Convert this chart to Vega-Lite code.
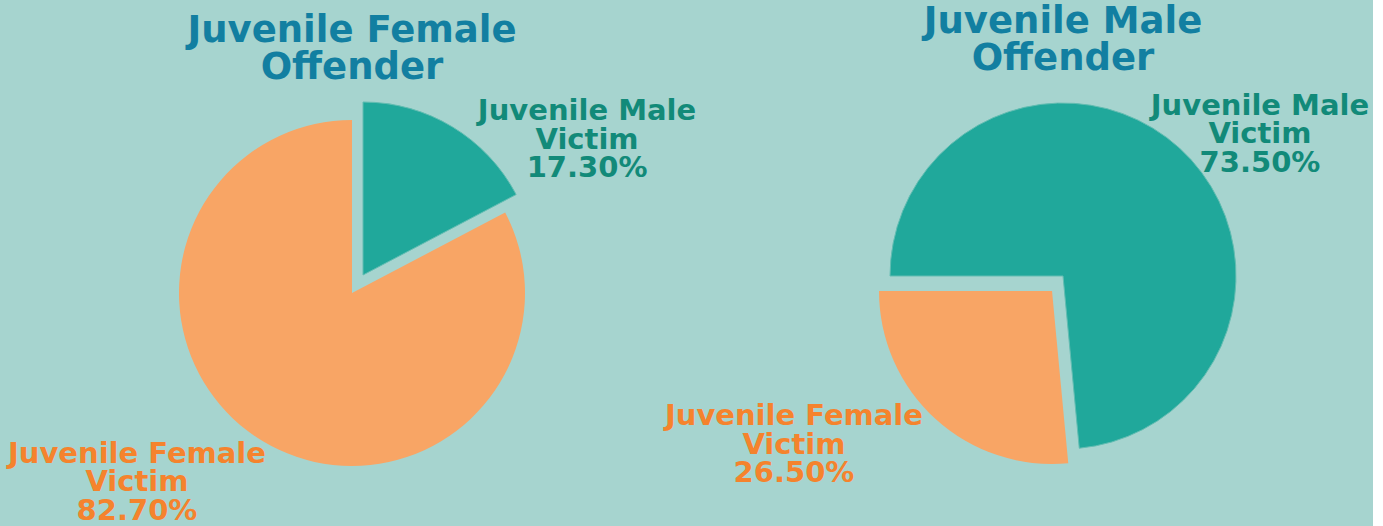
{
  "$schema": "https://vega.github.io/schema/vega-lite/v6.json",
  "background": "#a6d4cf",
  "padding": 0,
  "bounds": "flush",
  "spacing": 49,
  "config": {"view": {"stroke": null}},
  "data": {
    "values": [
      {"offender": "Juvenile Female Offender", "victim": "Juvenile Male Victim", "percent": 17.3},
      {"offender": "Juvenile Female Offender", "victim": "Juvenile Female Victim", "percent": 82.7},
      {"offender": "Juvenile Male Offender", "victim": "Juvenile Male Victim", "percent": 73.5},
      {"offender": "Juvenile Male Offender", "victim": "Juvenile Female Victim", "percent": 26.5}
    ]
  },
  "resolve": {"scale": {"theta": "independent", "color": "shared"}},
  "hconcat": [
    {
      "width": 704,
      "height": 526,
      "title": {"text": ["Juvenile Female", "Offender"], "font": "DejaVu Sans", "fontWeight": "bold", "fontSize": 37, "lineHeight": 37, "color": "#127fa1", "baseline": "bottom", "offset": -124, "anchor": "middle"},
      "transform": [
        {"filter": "datum.offender == 'Juvenile Female Offender'"},
        {"stack": "percent", "groupby": [], "sort": [{"field": "victim", "order": "descending"}], "as": ["v0", "v1"]},
        {"calculate": "replace(datum.victim, ' Victim', '\\nVictim') + '\\n' + format(datum.percent, '.2f') + '%'", "as": "label"}
      ],
      "layer": [
        {
          "transform": [{"filter": "datum.victim == 'Juvenile Female Victim'"}],
          "mark": {"type": "arc", "radius": 173, "yOffset": 30},
          "encoding": {
            "theta": {"field": "v0", "type": "quantitative", "scale": {"domain": [0, 100], "range": [0, 6.283185]}},
            "theta2": {"field": "v1"},
            "color": {"field": "victim", "type": "nominal", "scale": {"domain": ["Juvenile Male Victim", "Juvenile Female Victim"], "range": ["#20a89b", "#f8a565"]}, "legend": null}
          }
        },
        {
          "transform": [{"filter": "datum.victim == 'Juvenile Male Victim'"}],
          "mark": {"type": "arc", "radius": 173, "xOffset": 11, "yOffset": 12, "stroke": "#62bdb2", "strokeWidth": 1},
          "encoding": {
            "theta": {"field": "v0", "type": "quantitative"},
            "theta2": {"field": "v1"},
            "color": {"field": "victim", "type": "nominal", "legend": null}
          }
        },
        {
          "transform": [{"filter": "datum.victim == 'Juvenile Male Victim'"}],
          "mark": {"type": "text", "radius": 297, "thetaOffset": 0.9131, "yOffset": 30, "align": "center", "baseline": "middle", "font": "DejaVu Sans", "fontWeight": "bold", "fontSize": 29, "lineHeight": 28.5, "lineBreak": "\n", "color": "#128a79"},
          "encoding": {
            "theta": {"field": "v0", "type": "quantitative"},
            "text": {"field": "label"}
          }
        },
        {
          "transform": [{"filter": "datum.victim == 'Juvenile Female Victim'"}],
          "mark": {"type": "text", "radius": 268.6, "thetaOffset": 2.9828, "yOffset": 30, "align": "center", "baseline": "middle", "font": "DejaVu Sans", "fontWeight": "bold", "fontSize": 29, "lineHeight": 28.5, "lineBreak": "\n", "color": "#f5832d"},
          "encoding": {
            "theta": {"field": "v0", "type": "quantitative"},
            "text": {"field": "label"}
          }
        }
      ]
    },
    {
      "width": 620,
      "height": 526,
      "title": {"text": ["Juvenile Male", "Offender"], "font": "DejaVu Sans", "fontWeight": "bold", "fontSize": 37, "lineHeight": 37, "color": "#127fa1", "baseline": "bottom", "offset": -115, "anchor": "middle"},
      "transform": [
        {"filter": "datum.offender == 'Juvenile Male Offender'"},
        {"stack": "percent", "groupby": [], "sort": [{"field": "victim", "order": "descending"}], "as": ["v0", "v1"]},
        {"calculate": "replace(datum.victim, ' Victim', '\\nVictim') + '\\n' + format(datum.percent, '.2f') + '%'", "as": "label"}
      ],
      "layer": [
        {
          "transform": [{"filter": "datum.victim == 'Juvenile Male Victim'"}],
          "mark": {"type": "arc", "radius": 173, "yOffset": 13, "stroke": "#62bdb2", "strokeWidth": 1},
          "encoding": {
            "theta": {"field": "v0", "type": "quantitative", "scale": {"domain": [0, 100], "range": [-1.570796, 4.712389]}},
            "theta2": {"field": "v1"},
            "color": {"field": "victim", "type": "nominal", "legend": null}
          }
        },
        {
          "transform": [{"filter": "datum.victim == 'Juvenile Female Victim'"}],
          "mark": {"type": "arc", "radius": 173, "xOffset": -11, "yOffset": 28},
          "encoding": {
            "theta": {"field": "v0", "type": "quantitative"},
            "theta2": {"field": "v1"},
            "color": {"field": "victim", "type": "nominal", "legend": null}
          }
        },
        {
          "transform": [{"filter": "datum.victim == 'Juvenile Male Victim'"}],
          "mark": {"type": "text", "radius": 260.2, "thetaOffset": 2.4295, "yOffset": 13, "align": "center", "baseline": "middle", "font": "DejaVu Sans", "fontWeight": "bold", "fontSize": 29, "lineHeight": 28.5, "lineBreak": "\n", "color": "#128a79"},
          "encoding": {
            "theta": {"field": "v0", "type": "quantitative"},
            "text": {"field": "label"}
          }
        },
        {
          "transform": [{"filter": "datum.victim == 'Juvenile Female Victim'"}],
          "mark": {"type": "text", "radius": 303.3, "thetaOffset": 1.1851, "yOffset": 13, "align": "center", "baseline": "middle", "font": "DejaVu Sans", "fontWeight": "bold", "fontSize": 29, "lineHeight": 28.5, "lineBreak": "\n", "color": "#f5832d"},
          "encoding": {
            "theta": {"field": "v0", "type": "quantitative"},
            "text": {"field": "label"}
          }
        }
      ]
    }
  ]
}
